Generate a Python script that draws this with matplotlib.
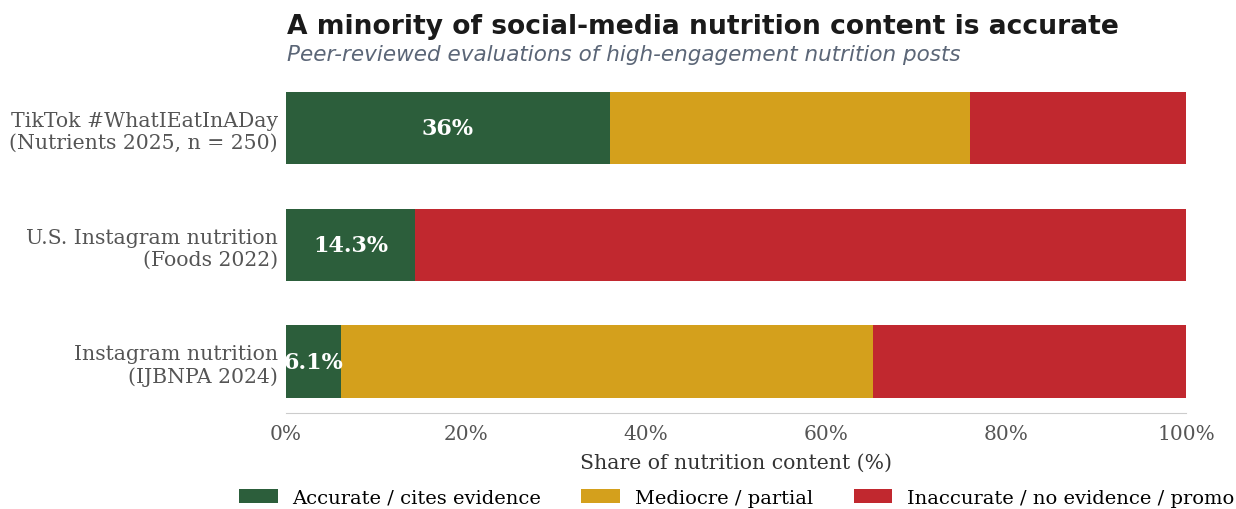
import matplotlib.pyplot as plt
from matplotlib.ticker import FuncFormatter

# data
studies = ["Instagram nutrition\n(IJBNPA 2024)",
           "U.S. Instagram nutrition\n(Foods 2022)",
           "TikTok #WhatIEatInADay\n(Nutrients 2025, n = 250)"]
accurate = [6.1, 14.3, 36.0]
mediocre = [59.1, 0.0, 40.0]
inaccurate = [34.8, 85.7, 24.0]
acc_labels = ["6.1%", "14.3%", "36%"]
categories = ["Accurate / cites evidence", "Mediocre / partial",
              "Inaccurate / no evidence / promo"]
colors = ["#2c5e3b", "#d4a01c", "#c1282f"]

plt.rcParams['font.family'] = 'DejaVu Serif'

fig = plt.figure(figsize=(12.36, 5.1), dpi=100)
ax = fig.add_axes([0.2314, 0.188, 0.7281, 0.660])

y = range(len(studies))
h = 0.62
b1 = ax.barh(y, accurate, height=h, color=colors[0], label=categories[0])
left2 = accurate
b2 = ax.barh(y, mediocre, height=h, left=left2, color=colors[1], label=categories[1])
left3 = [a + m for a, m in zip(accurate, mediocre)]
b3 = ax.barh(y, inaccurate, height=h, left=left3, color=colors[2], label=categories[2])

for rect, lab in zip(b1, acc_labels):
    ax.text(rect.get_x() + rect.get_width() / 2, rect.get_y() + rect.get_height() / 2,
            lab, ha='center', va='center', color='white', fontsize=16, fontweight='bold')

ax.set_xlim(0, 100)
ax.set_yticks(list(y))
ax.set_yticklabels(studies, fontsize=14.7, color='#555555')
ax.xaxis.set_major_formatter(FuncFormatter(lambda v, p: f"{v:.0f}%"))
ax.tick_params(axis='x', labelsize=14.5, labelcolor='#555555', length=0, pad=8)
ax.tick_params(axis='y', length=0, pad=6)
for s in ['top', 'right', 'left']:
    ax.spines[s].set_visible(False)
ax.spines['bottom'].set_color('#cccccc')
ax.set_xlabel("Share of nutrition content (%)", fontsize=14.7, color='#333333', labelpad=7)

fig.text(0.2322, 0.948, "A minority of social-media nutrition content is accurate",
         fontsize=19.1, fontweight='bold', family='DejaVu Sans', color='#1a1a1a',
         ha='left', va='center')
fig.text(0.2322, 0.893, "Peer-reviewed evaluations of high-engagement nutrition posts",
         fontsize=15.5, style='italic', family='DejaVu Sans', color='#5b6677',
         ha='left', va='center')

fig.legend(handles=[b1, b2, b3], loc='center', bbox_to_anchor=(0.596, 0.022),
           ncol=3, frameon=False, fontsize=14, handlelength=2.0, handleheight=0.7,
           handletextpad=0.77, columnspacing=2.06)

fig.savefig("out.png", dpi=100)
